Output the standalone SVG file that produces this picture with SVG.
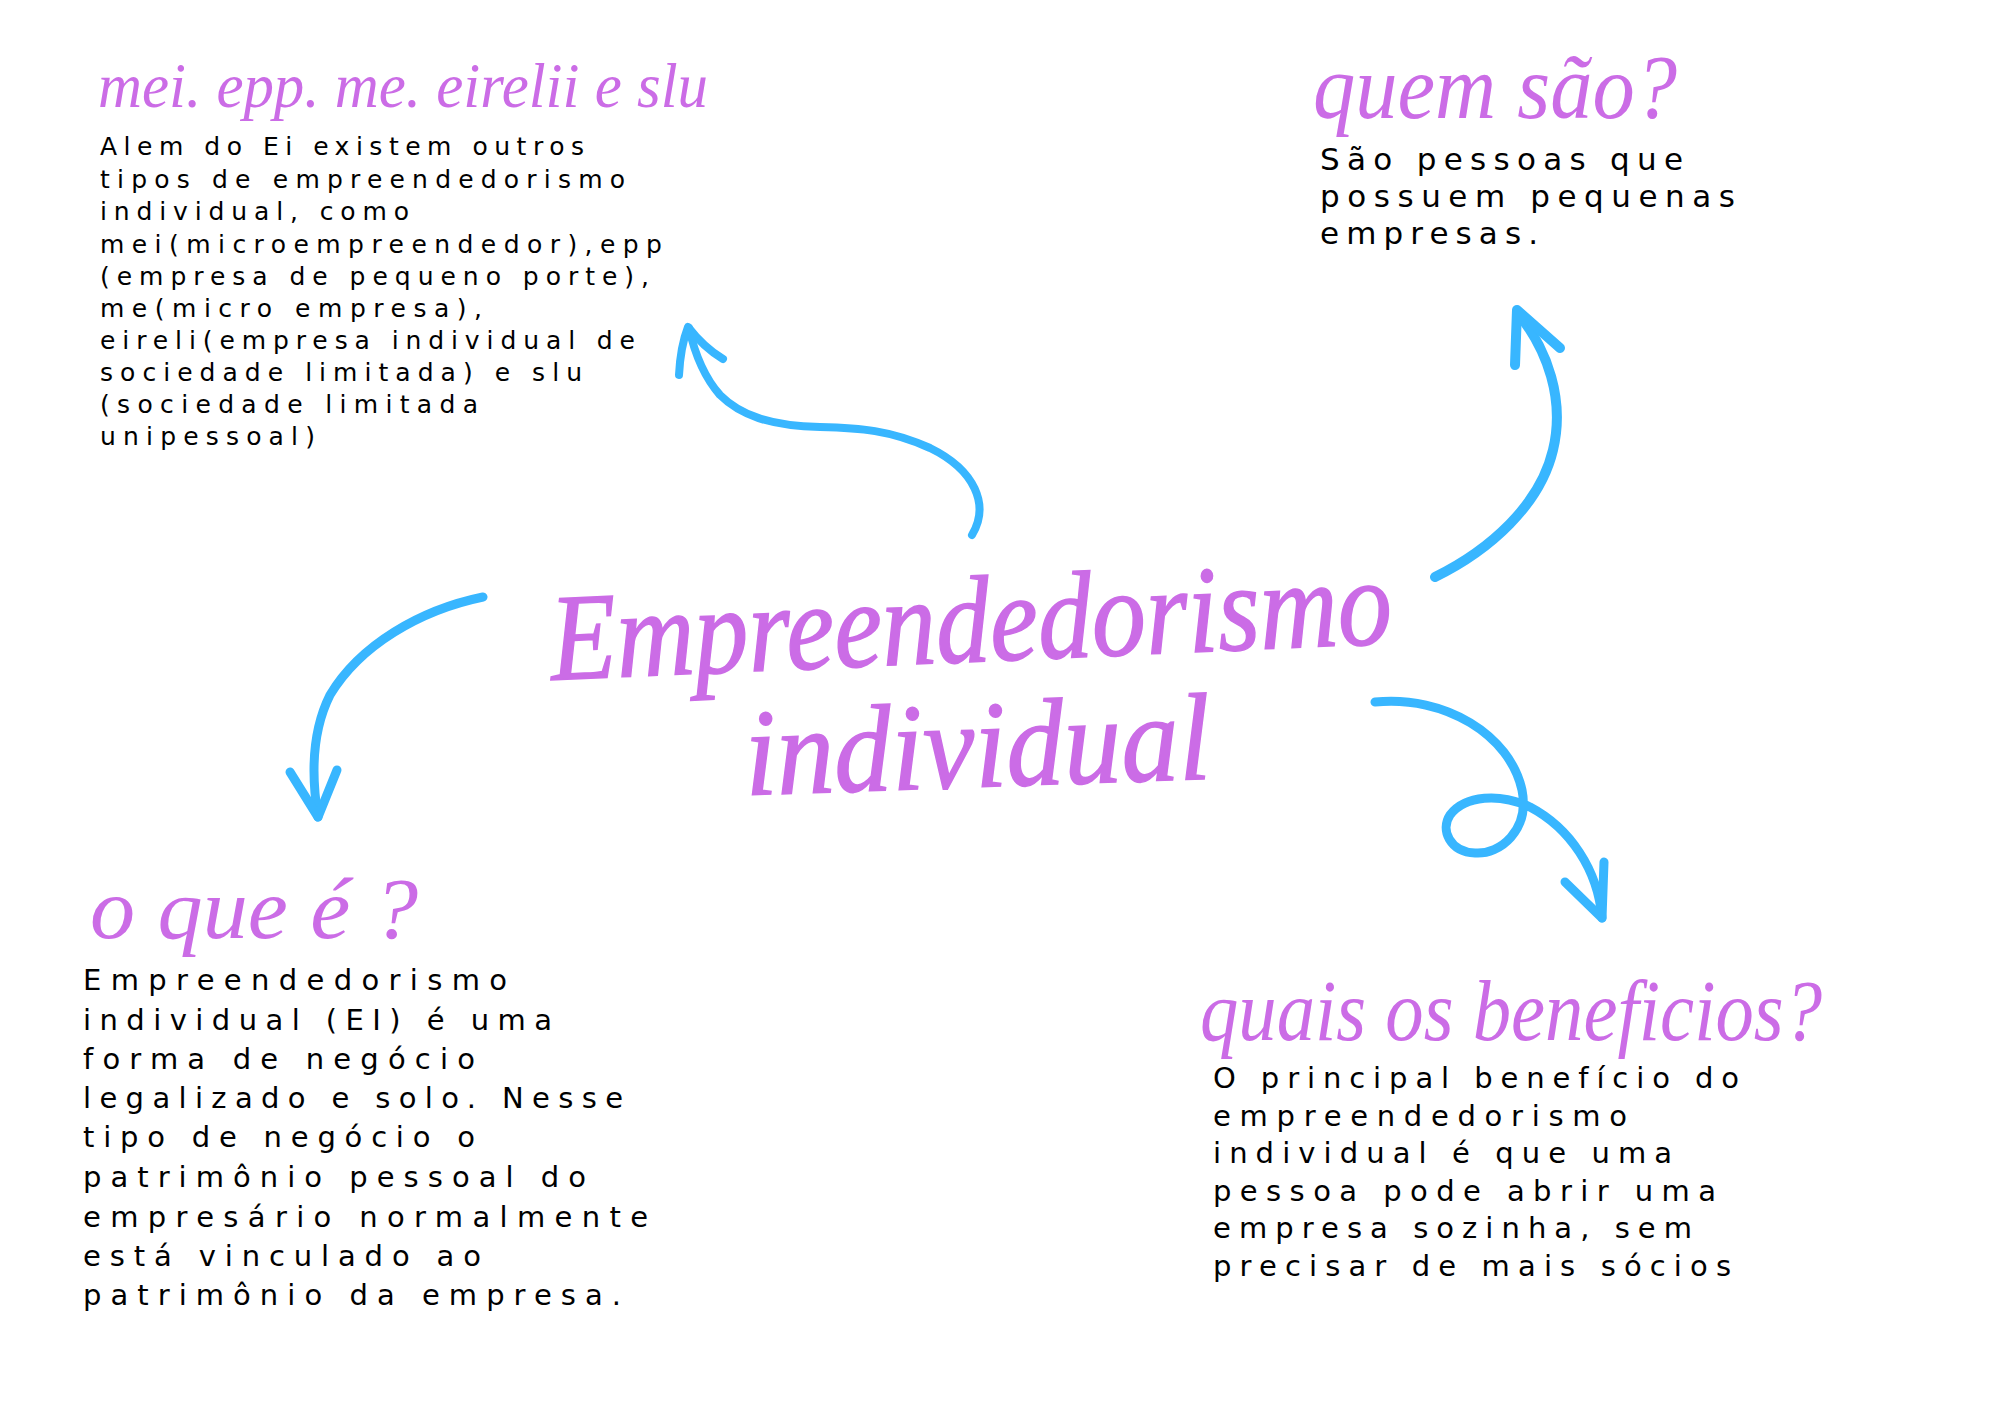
<svg xmlns="http://www.w3.org/2000/svg" width="2000" height="1414" viewBox="0 0 2000 1414">
<style>
.bg{fill:#ffffff}
.script{font-family:"Liberation Serif","DejaVu Serif",serif;font-style:italic;fill:#cb6ce6}
.title{stroke:#cb6ce6;stroke-width:1.5}
.body{font-family:"DejaVu Sans","Liberation Sans",sans-serif;fill:#000000}
.arrow{fill:none;stroke:#38b6ff;stroke-linecap:round;stroke-linejoin:round}
</style>
<rect class="bg" x="0" y="0" width="2000" height="1414"/>

<g id="center">
  <text class="script title" font-size="124" x="552" y="680" textLength="842" lengthAdjust="spacingAndGlyphs" transform="rotate(-2.5 552 680)">Empreendedorismo</text>
  <text class="script title" font-size="124" x="746" y="795" textLength="466" lengthAdjust="spacingAndGlyphs" transform="rotate(-2 746 795)">individual</text>
</g>

<g id="node-tipos">
  <text class="script" font-size="64" x="98" y="107" textLength="610" lengthAdjust="spacingAndGlyphs">mei. epp. me. eirelii e slu</text>
  <g class="body" font-size="25">
    <text x="100" y="155" textLength="484" lengthAdjust="spacing">Alem do Ei existem outros</text>
    <text x="100" y="188" textLength="525" lengthAdjust="spacing">tipos de empreendedorismo</text>
    <text x="100" y="220" textLength="309" lengthAdjust="spacing">individual, como</text>
    <text x="100" y="253" textLength="562" lengthAdjust="spacing">mei(microempreendedor),epp</text>
    <text x="100" y="285" textLength="549" lengthAdjust="spacing">(empresa de pequeno porte),</text>
    <text x="100" y="317" textLength="382" lengthAdjust="spacing">me(micro empresa),</text>
    <text x="100" y="349" textLength="535" lengthAdjust="spacing">eireli(empresa individual de</text>
    <text x="100" y="381" textLength="482" lengthAdjust="spacing">sociedade limitada) e slu</text>
    <text x="100" y="413" textLength="378" lengthAdjust="spacing">(sociedade limitada</text>
    <text x="100" y="445" textLength="215" lengthAdjust="spacing">unipessoal)</text>
  </g>
</g>

<g id="node-quem">
  <text class="script" font-size="90" x="1313" y="118" textLength="364" lengthAdjust="spacingAndGlyphs">quem são?</text>
  <g class="body" font-size="31">
    <text x="1320" y="170" textLength="363" lengthAdjust="spacing">São pessoas que</text>
    <text x="1320" y="207" textLength="415" lengthAdjust="spacing">possuem pequenas</text>
    <text x="1320" y="244" textLength="218" lengthAdjust="spacing">empresas.</text>
  </g>
</g>

<g id="node-oque">
  <text class="script" font-size="86" x="90" y="938" textLength="328" lengthAdjust="spacingAndGlyphs">o que é ?</text>
  <g class="body" font-size="29">
    <text x="83" y="990" textLength="424" lengthAdjust="spacing">Empreendedorismo</text>
    <text x="83" y="1030" textLength="469" lengthAdjust="spacing">individual (EI) é uma</text>
    <text x="83" y="1069" textLength="392" lengthAdjust="spacing">forma de negócio</text>
    <text x="83" y="1108" textLength="540" lengthAdjust="spacing">legalizado e solo. Nesse</text>
    <text x="83" y="1147" textLength="392" lengthAdjust="spacing">tipo de negócio o</text>
    <text x="83" y="1187" textLength="503" lengthAdjust="spacing">patrimônio pessoal do</text>
    <text x="83" y="1227" textLength="565" lengthAdjust="spacing">empresário normalmente</text>
    <text x="83" y="1266" textLength="398" lengthAdjust="spacing">está vinculado ao</text>
    <text x="83" y="1305" textLength="538" lengthAdjust="spacing">patrimônio da empresa.</text>
  </g>
</g>

<g id="node-beneficios">
  <text class="script" font-size="86" x="1200" y="1040" textLength="622" lengthAdjust="spacingAndGlyphs">quais os beneficios?</text>
  <g class="body" font-size="29">
    <text x="1213" y="1088" textLength="526" lengthAdjust="spacing">O principal benefício do</text>
    <text x="1213" y="1126" textLength="414" lengthAdjust="spacing">empreendedorismo</text>
    <text x="1213" y="1163" textLength="459" lengthAdjust="spacing">individual é que uma</text>
    <text x="1213" y="1201" textLength="503" lengthAdjust="spacing">pessoa pode abrir uma</text>
    <text x="1213" y="1238" textLength="479" lengthAdjust="spacing">empresa sozinha, sem</text>
    <text x="1213" y="1276" textLength="518" lengthAdjust="spacing">precisar de mais sócios</text>
  </g>
</g>

<g id="connectors">
  <path class="arrow" stroke-width="8" d="M972,535 C990,505 975,470 930,448 C890,430 860,428 820,427 C770,426 740,415 720,395 C705,378 695,355 689,328"/>
  <path class="arrow" stroke-width="8" d="M679,375 C680,355 683,340 688,327 C698,340 708,350 723,359"/>
  <path class="arrow" stroke-width="10" d="M1435,577 C1490,550 1540,505 1553,450 C1565,400 1548,350 1517,312"/>
  <path class="arrow" stroke-width="10" d="M1515,365 L1517,310 L1560,348"/>
  <path class="arrow" stroke-width="9" d="M483,597 C420,610 360,645 330,695 C310,735 312,780 318,817"/>
  <path class="arrow" stroke-width="9" d="M290,772 L318,817 L337,770"/>
  <path class="arrow" stroke-width="9" d="M1375,702 C1445,695 1510,735 1522,790 C1530,830 1500,855 1475,853 C1450,852 1440,830 1450,815 C1465,795 1500,793 1530,807 C1570,828 1598,870 1602,918"/>
  <path class="arrow" stroke-width="9" d="M1565,882 L1602,918 L1604,862"/>
</g>
</svg>
